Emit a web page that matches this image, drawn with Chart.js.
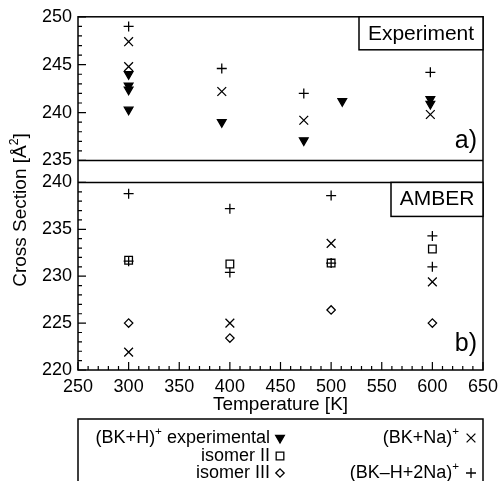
<!DOCTYPE html>
<html>
<head>
<meta charset="utf-8">
<script src="https://cdn.jsdelivr.net/npm/chart.js@4/dist/chart.umd.min.js"></script>
<style>
  html, body { margin: 0; padding: 0; background: #fff; }
  #wrap { width: 498px; height: 481px; }
</style>
</head>
<body>
<div id="wrap"><canvas id="myChart" width="498" height="481"></canvas></div>
<script>
// panel a) experiment
const expT = [300, 300, 300, 300, 392, 473, 511, 598, 598];
const expCS = [244.0, 242.8, 242.4, 240.3, 239.0, 237.1, 241.2, 241.4, 240.9];
const naExpT = [300, 300, 392, 473, 598];
const naExpCS = [247.4, 244.8, 242.2, 239.2, 239.8];
const na2ExpT = [300, 392, 473, 598];
const na2ExpCS = [249.0, 244.6, 242.0, 244.2];

// panel b) AMBER
const amberT = [300, 400, 500, 600];
const isoII = [231.7, 231.3, 231.4, 232.9];
const isoIII = [225.0, 223.4, 226.4, 225.0];
const naAmber = [221.9, 225.0, 233.5, 229.4];
const na2AmberT = [300, 300, 400, 400, 500, 500, 600, 600];
const na2Amber = [238.8, 231.6, 237.2, 230.4, 238.6, 231.4, 234.3, 231.0];

const xTicks = [250, 300, 350, 400, 450, 500, 550, 600, 650];

const FONT = '"Liberation Sans", Arial, Helvetica, sans-serif';
Chart.defaults.font.family = FONT;
Chart.defaults.color = '#000';

function pts(xs, ys) {
    return xs.map((x, i) => ({x: x, y: ys[i]}));
}

const marks = {
    tri: {pointStyle: 'triangle', rotation: 180, radius: 5, fill: '#000'},
    sq: {pointStyle: 'rect', rotation: 0, radius: 5.4, fill: 'rgba(0,0,0,0)'},
    dia: {pointStyle: 'rectRot', rotation: 0, radius: 4.2, fill: 'rgba(0,0,0,0)'},
    x: {pointStyle: 'crossRot', rotation: 0, radius: 6.2, fill: 'rgba(0,0,0,0)'},
    plus: {pointStyle: 'cross', rotation: 0, radius: 5, fill: 'rgba(0,0,0,0)'}
};

function ds(label, data, axis, m) {
    return {
        label: label,
        data: data,
        yAxisID: axis,
        showLine: false,
        pointStyle: m.pointStyle,
        rotation: m.rotation,
        pointRadius: m.radius,
        pointBackgroundColor: m.fill,
        pointBorderColor: '#000',
        pointBorderWidth: 1.3
    };
}

function drawMark(ctx, m, x, y) {
    ctx.save();
    ctx.strokeStyle = '#000';
    ctx.fillStyle = m.fill;
    ctx.lineWidth = 1.3;
    Chart.helpers.drawPoint(ctx, {pointStyle: m.pointStyle, rotation: m.rotation, radius: m.radius, borderWidth: 1.3}, x, y);
    ctx.restore();
}

// text with a superscript part: parts = [[text, isSup], ...]
function supWidth(ctx, parts, size) {
    let w = 0;
    parts.forEach(p => {
        ctx.font = (p[1] ? size * 0.65 : size) + 'px ' + FONT;
        w += ctx.measureText(p[0]).width;
    });
    return w;
}
function supText(ctx, parts, x, y, size) {
    ctx.textAlign = 'left';
    ctx.textBaseline = 'middle';
    parts.forEach(p => {
        ctx.font = (p[1] ? size * 0.65 : size) + 'px ' + FONT;
        ctx.fillText(p[0], x, p[1] ? y - size * 0.35 : y);
        x += ctx.measureText(p[0]).width;
    });
}

const framePlugin = {
    id: 'frame',
    afterDraw(chart) {
        const ctx = chart.ctx;
        const a = chart.chartArea;
        const sx = chart.scales.x, yt = chart.scales.yTop, yb = chart.scales.yBot;
        ctx.save();
        ctx.strokeStyle = '#000';
        ctx.lineWidth = 1.5;
        ctx.strokeRect(a.left, a.top, a.right - a.left, a.bottom - a.top);
        ctx.beginPath();
        ctx.moveTo(a.left, yt.bottom); ctx.lineTo(a.right, yt.bottom);
        ctx.moveTo(a.left, yb.top); ctx.lineTo(a.right, yb.top);
        ctx.stroke();

        // inward ticks
        ctx.lineWidth = 1.2;
        ctx.beginPath();
        [yt, yb].forEach(s => {
            for (let v = s.min; v <= s.max; v++) {
                const py = s.getPixelForValue(v);
                const len = v % 5 === 0 ? 8 : 4;
                ctx.moveTo(a.left, py); ctx.lineTo(a.left + len, py);
            }
        });
        for (let v = sx.min; v <= sx.max; v += 10) {
            const px = sx.getPixelForValue(v);
            const len = v % 50 === 0 ? 8 : 4;
            ctx.moveTo(px, a.bottom); ctx.lineTo(px, a.bottom - len);
        }
        ctx.stroke();

        // panel boxes
        ctx.lineWidth = 1.5;
        ctx.fillStyle = '#fff';
        ctx.fillRect(359, a.top, a.right - 359, 33);
        ctx.strokeRect(359, a.top, a.right - 359, 33);
        ctx.fillRect(391, yb.top, a.right - 391, 34);
        ctx.strokeRect(391, yb.top, a.right - 391, 34);
        ctx.fillStyle = '#000';
        ctx.textAlign = 'center';
        ctx.textBaseline = 'middle';
        ctx.font = '21px ' + FONT;
        ctx.fillText('Experiment', (359 + a.right) / 2, a.top + 17);
        ctx.fillText('AMBER', (391 + a.right) / 2, yb.top + 17);
        ctx.textAlign = 'right';
        ctx.font = '25px ' + FONT;
        ctx.fillText('a)', a.right - 6, yt.getPixelForValue(237));
        ctx.fillText('b)', a.right - 6, yb.getPixelForValue(222.8));

        // y title
        ctx.save();
        ctx.translate(21, 210);
        ctx.rotate(-Math.PI / 2);
        const tparts = [['Cross Section [Å', false], ['2', true], [']', false]];
        const tw = supWidth(ctx, tparts, 19);
        supText(ctx, tparts, -tw / 2, 0, 19);
        ctx.restore();

        // legend
        ctx.lineWidth = 1.5;
        ctx.strokeRect(a.left, 419, a.right - a.left, 80);
        const rows = [438, 456, 473];
        const left = [
            [[['(BK+H)', false], ['+', true], [' experimental', false]], marks.tri],
            [[['isomer II', false]], marks.sq],
            [[['isomer III', false]], marks.dia]
        ];
        const right = [
            [[['(BK+Na)', false], ['+', true]], marks.x, 0],
            [[['(BK\u2013H+2Na)', false], ['+', true]], marks.plus, 2]
        ];
        ctx.fillStyle = '#000';
        left.forEach((e, i) => {
            const w = supWidth(ctx, e[0], 18);
            supText(ctx, e[0], 270 - w, rows[i], 18);
            drawMark(ctx, e[1], 280, rows[i]);
        });
        right.forEach(e => {
            const w = supWidth(ctx, e[0], 18);
            supText(ctx, e[0], 459 - w, rows[e[2]], 18);
            drawMark(ctx, e[1], 471, rows[e[2]]);
        });
        ctx.restore();
    }
};

const yFit = s => { s.width = 78; };

new Chart('myChart', {
    type: 'scatter',
    data: {
        datasets: [
            ds('(BK+H)+ experimental', pts(expT, expCS), 'yTop', marks.tri),
            ds('(BK+Na)+', pts(naExpT, naExpCS), 'yTop', marks.x),
            ds('(BK-H+2Na)+', pts(na2ExpT, na2ExpCS), 'yTop', marks.plus),
            ds('isomer II', pts(amberT, isoII), 'yBot', marks.sq),
            ds('isomer III', pts(amberT, isoIII), 'yBot', marks.dia),
            ds('(BK+Na)+', pts(amberT, naAmber), 'yBot', marks.x),
            ds('(BK-H+2Na)+', pts(na2AmberT, na2Amber), 'yBot', marks.plus)
        ]
    },
    options: {
        responsive: false,
        animation: false,
        layout: {padding: {left: 0, right: 15, top: 16, bottom: 0}},
        plugins: {
            legend: {display: false},
            tooltip: {enabled: false}
        },
        scales: {
            x: {
                type: 'linear',
                position: 'bottom',
                min: 250,
                max: 650,
                afterFit: s => { s.height = 111; s.paddingLeft = 0; s.paddingRight = 0; },
                afterBuildTicks: s => { s.ticks = xTicks.map(v => ({value: v})); },
                grid: {display: false, drawTicks: false},
                border: {display: false},
                ticks: {font: {size: 18}, padding: 6, maxRotation: 0},
                title: {display: true, text: 'Temperature [K]', font: {size: 19}, padding: {top: 0, bottom: 65}}
            },
            yBot: {
                type: 'linear',
                position: 'left',
                stack: 'cs',
                stackWeight: 188,
                min: 220,
                max: 240,
                afterFit: yFit,
                grid: {display: false, drawTicks: false},
                border: {display: false},
                ticks: {stepSize: 5, font: {size: 18}, padding: 6}
            },
            yGap: {
                type: 'linear',
                position: 'left',
                stack: 'cs',
                stackWeight: 22,
                min: 0,
                max: 1,
                afterFit: yFit,
                grid: {display: false, drawTicks: false},
                border: {display: false},
                ticks: {display: false}
            },
            yTop: {
                type: 'linear',
                position: 'left',
                stack: 'cs',
                stackWeight: 144,
                min: 235,
                max: 250,
                afterFit: yFit,
                grid: {display: false, drawTicks: false},
                border: {display: false},
                ticks: {stepSize: 5, font: {size: 18}, padding: 6}
            }
        }
    },
    plugins: [framePlugin]
});
</script>
</body>
</html>
